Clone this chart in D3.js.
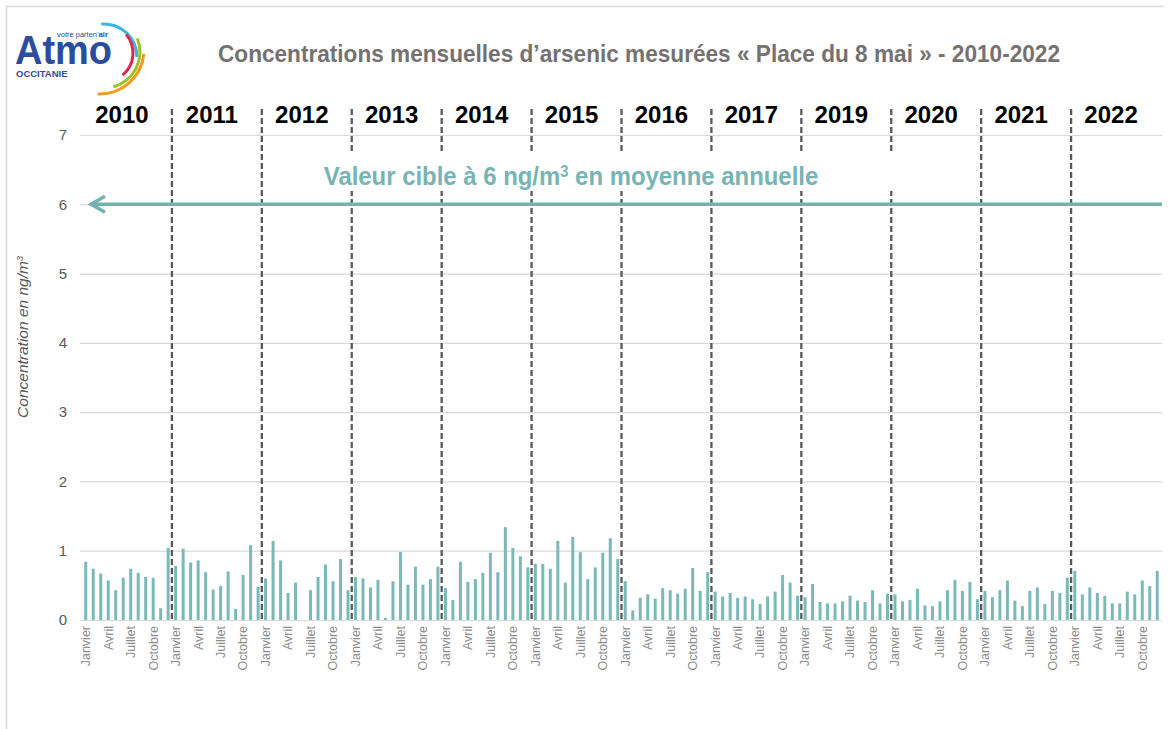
<!DOCTYPE html>
<html>
<head>
<meta charset="utf-8">
<script src="https://cdn.jsdelivr.net/npm/d3@7"></script>
<style>
  body { margin: 0; background: #fff; }
  svg { display: block; }
</style>
</head>
<body>
<div id="chart"></div>
<script>
// chart values (ng/m3)
var years = ["2010", "2011", "2012", "2013", "2014", "2015", "2016", "2017", "2019", "2020", "2021", "2022"];
var monthTicks = ["Janvier", "Avril", "Juillet", "Octobre"];
var yTicks = [0, 1, 2, 3, 4, 5, 6, 7];

var c2010 = [0.84, 0.74, 0.67, 0.57, 0.43, 0.61, 0.74, 0.68, 0.62, 0.61, 0.17, 1.04];
var c2011 = [0.78, 1.03, 0.83, 0.86, 0.69, 0.44, 0.49, 0.70, 0.16, 0.65, 1.08, 0.48];
var c2012 = [0.60, 1.14, 0.86, 0.39, 0.54, null, 0.43, 0.62, 0.80, 0.56, 0.88, 0.43];
var c2013 = [0.62, 0.60, 0.47, 0.58, 0.03, 0.56, 0.98, 0.51, 0.77, 0.51, 0.59, 0.77];
var c2014 = [0.46, 0.29, 0.84, 0.55, 0.59, 0.68, 0.97, 0.69, 1.34, 1.04, 0.92, 0.76];
var c2015 = [0.81, 0.81, 0.74, 1.14, 0.54, 1.20, 0.98, 0.59, 0.76, 0.97, 1.18, 0.88];
var c2016 = [0.56, 0.14, 0.32, 0.37, 0.31, 0.46, 0.43, 0.38, 0.45, 0.75, 0.42, 0.69];
var c2017 = [0.41, 0.34, 0.39, 0.32, 0.34, 0.30, 0.23, 0.34, 0.41, 0.65, 0.54, 0.35];
var c2019 = [0.33, 0.52, 0.26, 0.24, 0.24, 0.27, 0.35, 0.28, 0.26, 0.43, 0.24, 0.38];
var c2020 = [0.37, 0.27, 0.29, 0.45, 0.21, 0.20, 0.27, 0.43, 0.58, 0.42, 0.55, 0.30];
var c2021 = [0.42, 0.33, 0.43, 0.57, 0.28, 0.20, 0.42, 0.47, 0.23, 0.42, 0.39, 0.61];
var c2022 = [0.71, 0.37, 0.47, 0.39, 0.35, 0.24, 0.24, 0.41, 0.37, 0.57, 0.49, 0.71];

var seriesByYear = [c2010, c2011, c2012, c2013, c2014, c2015, c2016, c2017, c2019, c2020, c2021, c2022];
var targetValue = 6;

// svg parameters
var svgWidth = 1169, svgHeight = 729;
var plot = {left: 80, right: 1162, top: 135, bottom: 620};

var svg = d3.select("#chart").append("svg")
  .attr("width", svgWidth)
  .attr("height", svgHeight);

// flatten into month records
var data = [];
seriesByYear.forEach(function(vals, yi) {
  vals.forEach(function(v, m) {
    data.push({key: yi * 12 + m, year: years[yi], month: m, value: v});
  });
});

var xScale = d3.scaleBand()
  .domain(data.map(function(d) { return d.key; }))
  .range([82, 1161])
  .paddingInner(0.6)
  .paddingOuter(0.3);
var yScale = d3.scaleLinear().domain([0, 7]).range([plot.bottom, plot.top]);

// frame
svg.append("path")
  .attr("d", "M6.5," + svgHeight + " V6.5 H1164")
  .attr("fill", "none")
  .attr("stroke", "#d9d9d9")
  .attr("stroke-width", 1.5);

// gridlines + y labels
var yAxis = d3.axisLeft(yScale)
  .tickValues(yTicks)
  .tickSize(-(plot.right - plot.left))
  .tickPadding(13)
  .tickFormat(d3.format("d"));
var gy = svg.append("g")
  .attr("transform", "translate(" + plot.left + ",0)")
  .call(yAxis);
gy.select(".domain").remove();
gy.selectAll(".tick line").attr("stroke", "#d9d9d9").attr("stroke-width", 1.2);
gy.selectAll(".tick text")
  .attr("fill", "#595959")
  .attr("font-family", "Liberation Sans, Arial, sans-serif")
  .attr("font-size", 15);

// y title
svg.append("text")
  .attr("transform", "translate(28,337) rotate(-90)")
  .attr("text-anchor", "middle")
  .attr("font-family", "Liberation Sans, Arial, sans-serif")
  .attr("font-style", "italic")
  .attr("font-size", 15.5)
  .attr("fill", "#595959")
  .text("Concentration en ng/m")
  .append("tspan")
  .attr("baseline-shift", "super")
  .attr("font-size", 9)
  .text("3");

// bars
svg.append("g").selectAll("rect")
  .data(data.filter(function(d) { return d.value != null; }))
  .enter()
  .append("rect")
  .attr("x", function(d) { return xScale(d.key); })
  .attr("y", function(d) { return yScale(d.value); })
  .attr("width", xScale.bandwidth())
  .attr("height", function(d) { return yScale(0) - yScale(d.value); })
  .attr("fill", "#7bb9b9");

// month labels
svg.append("g").selectAll("text")
  .data(data.filter(function(d) { return d.month % 3 == 0; }))
  .enter()
  .append("text")
  .attr("transform", function(d) {
    return "translate(" + (xScale(d.key) + xScale.bandwidth() / 2) + ",626) rotate(-90)";
  })
  .attr("dy", "0.35em")
  .attr("text-anchor", "end")
  .attr("font-family", "Liberation Sans, Arial, sans-serif")
  .attr("font-size", 12.5)
  .attr("fill", "#8c8c8c")
  .text(function(d) { return monthTicks[d.month / 3]; });

// year dividers
var step = xScale.step();
var dividers = years.slice(1).map(function(y, i) { return (i + 1) * 12; });
svg.append("g").selectAll("line")
  .data(dividers)
  .enter()
  .append("line")
  .attr("x1", function(k) { return xScale(k) + xScale.bandwidth() / 2 - step / 2; })
  .attr("x2", function(k) { return xScale(k) + xScale.bandwidth() / 2 - step / 2; })
  .attr("y1", 109)
  .attr("y2", 622)
  .attr("stroke", "#595959")
  .attr("stroke-width", 2.3)
  .attr("stroke-dasharray", "6,3");

// year labels
svg.append("g").selectAll("text")
  .data(years)
  .enter()
  .append("text")
  .attr("x", function(y, i) { return xScale(i * 12) + xScale.bandwidth() / 2 - step / 2 + step * 6 - 5; })
  .attr("y", 123)
  .attr("text-anchor", "middle")
  .attr("font-family", "Liberation Sans, Arial, sans-serif")
  .attr("font-weight", "bold")
  .attr("font-size", 24)
  .attr("fill", "#000")
  .text(function(y) { return y; });

// target value: white box, text and arrow
svg.append("rect")
  .attr("x", 300).attr("y", 153)
  .attr("width", 600).attr("height", 38)
  .attr("fill", "#fff");

var tv = svg.append("text")
  .attr("transform", "translate(571,185) scale(0.92,1)")
  .attr("text-anchor", "middle")
  .attr("font-family", "Liberation Sans Narrow, Arial Narrow, sans-serif")
  .attr("font-weight", "bold")
  .attr("font-size", 26)
  .attr("fill", "#78b4b4");
tv.append("tspan").text("Valeur cible à 6 ng/m");
tv.append("tspan").attr("baseline-shift", "super").attr("font-size", 16).text("3");
tv.append("tspan").text(" en moyenne annuelle");

var yT = yScale(targetValue);
svg.append("line")
  .attr("x1", 91).attr("x2", plot.right)
  .attr("y1", yT).attr("y2", yT)
  .attr("stroke", "#74b1b1")
  .attr("stroke-width", 3.5);
svg.append("path")
  .attr("d", "M105," + (yT - 8) + " L91," + yT + " L105," + (yT + 8))
  .attr("fill", "none")
  .attr("stroke", "#74b1b1")
  .attr("stroke-width", 3.5)
  .attr("stroke-linejoin", "miter");

// title
svg.append("text")
  .attr("x", 218)
  .attr("y", 62)
  .attr("font-family", "Liberation Sans Narrow, Arial Narrow, sans-serif")
  .attr("font-weight", "bold")
  .attr("font-size", 24)
  .attr("fill", "#767171")
  .attr("textLength", 842)
  .attr("lengthAdjust", "spacingAndGlyphs")
  .text("Concentrations mensuelles d’arsenic mesurées « Place du 8 mai » - 2010-2022");

// logo
var logo = svg.append("g");
logo.append("text")
  .attr("x", 15).attr("y", 64)
  .attr("font-family", "Liberation Sans, Arial, sans-serif")
  .attr("font-weight", "bold")
  .attr("font-size", 40)
  .attr("fill", "#2b4d9c")
  .attr("textLength", 97)
  .attr("lengthAdjust", "spacingAndGlyphs")
  .text("Atmo");
var tag = logo.append("text")
  .attr("x", 57).attr("y", 37)
  .attr("font-family", "Liberation Sans, Arial, sans-serif")
  .attr("font-size", 7.5)
  .attr("fill", "#2b4d9c");
tag.append("tspan").text("votre parten’");
tag.append("tspan").attr("font-weight", "bold").text("air");
logo.append("text")
  .attr("x", 16).attr("y", 77)
  .attr("font-family", "Liberation Sans, Arial, sans-serif")
  .attr("font-weight", "bold")
  .attr("font-size", 9.5)
  .attr("fill", "#2b4d9c")
  .text("OCCITANIE");

var arcs = [
  {cx: 104, cy: 57, r: 33, a0: -5, a1: 90, c: "#3cb4e5"},
  {cx: 104, cy: 53, r: 29, a0: 50, a1: 140, c: "#e2264d"},
  {cx: 104, cy: 52, r: 36, a0: 68, a1: 165, c: "#9cc32a"},
  {cx: 100, cy: 50, r: 44, a0: 95, a1: 183, c: "#f39c1b"}
];
var arcGen = d3.arc();
logo.selectAll("path")
  .data(arcs)
  .enter()
  .append("path")
  .attr("transform", function(d) { return "translate(" + d.cx + "," + d.cy + ")"; })
  .attr("d", function(d) {
    return arcGen({innerRadius: d.r - 1.5, outerRadius: d.r + 1.5,
      startAngle: d.a0 * Math.PI / 180, endAngle: d.a1 * Math.PI / 180});
  })
  .attr("fill", function(d) { return d.c; });
</script>
</body>
</html>
